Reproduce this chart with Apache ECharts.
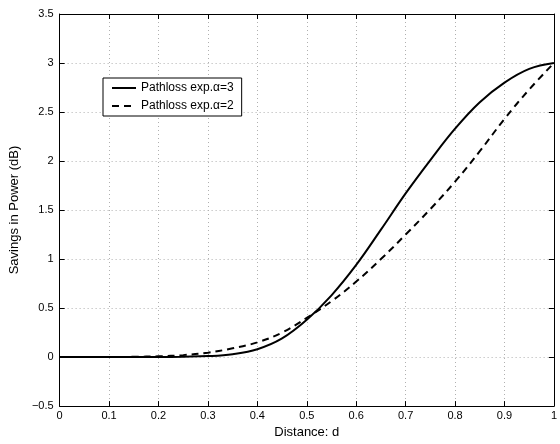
<!DOCTYPE html>
<html>
<head>
<meta charset="utf-8">
<script src="https://cdn.jsdelivr.net/npm/echarts@6/dist/echarts.min.js"></script>
<style>
  html, body { margin: 0; padding: 0; background: #fff; }
  #chart { width: 560px; height: 444px; }
</style>
</head>
<body>
<div id="chart"></div>
<script>
// distance samples
var distance = [0, 0.05, 0.1, 0.15, 0.2, 0.25, 0.3, 0.35, 0.4, 0.45, 0.5,
                0.55, 0.6, 0.65, 0.7, 0.75, 0.8, 0.85, 0.9, 0.95, 1.0];
// savings (dB), pathloss exponent 3
var savingsAlpha3 = [0, 0, 0, 0, 0.001, 0.004, 0.01, 0.03, 0.08, 0.19, 0.38,
                     0.63, 0.94, 1.3, 1.67, 2.01, 2.33, 2.6, 2.8, 2.94, 3.0];
// savings (dB), pathloss exponent 2
var savingsAlpha2 = [0, 0, 0.001, 0.003, 0.008, 0.02, 0.045, 0.09, 0.15, 0.25, 0.4,
                     0.57, 0.77, 1.0, 1.25, 1.51, 1.79, 2.1, 2.43, 2.73, 3.0];
var seriesNames = ['Pathloss exp.\u03b1=3', 'Pathloss exp.\u03b1=2'];

function pairs(ys) {
    return distance.map(function (x, i) { return [x, ys[i]]; });
}

var font = 'Liberation Sans, Arial, sans-serif';
var gridLine = { show: true, lineStyle: { color: '#b0b0b0', type: [1, 3], width: 1 } };
var blackLine = { show: true, onZero: false, lineStyle: { color: '#000', width: 1 } };
var innerTick = { show: true, inside: true, length: 5, lineStyle: { color: '#000' } };

var myChart = echarts.init(document.getElementById('chart'));
var option = {
    animation: false,
    grid: { left: 58, right: 2, top: 14, bottom: 36 },
    legend: {
        left: 103,
        top: 78,
        orient: 'vertical',
        backgroundColor: '#fff',
        borderColor: '#000',
        borderWidth: 1,
        padding: [4, 8, 4, 8],
        itemWidth: 24,
        itemHeight: 12,
        itemGap: 6,
        itemStyle: { opacity: 0 },
        textStyle: { fontFamily: font, fontSize: 12, color: '#000' },
        data: seriesNames
    },
    xAxis: [{
        type: 'value',
        min: 0,
        max: 1,
        interval: 0.1,
        name: 'Distance: d',
        nameLocation: 'middle',
        nameGap: 17,
        nameTextStyle: { fontFamily: font, fontSize: 13, color: '#000' },
        axisLine: blackLine,
        axisTick: innerTick,
        axisLabel: { fontFamily: font, fontSize: 11, color: '#000', margin: 4 },
        splitLine: gridLine
    }, {
        type: 'value',
        position: 'top',
        min: 0,
        max: 1,
        interval: 0.1,
        axisLine: blackLine,
        axisTick: innerTick,
        axisLabel: { show: false },
        splitLine: { show: false }
    }],
    yAxis: [{
        type: 'value',
        min: -0.5,
        max: 3.5,
        interval: 0.5,
        name: 'Savings in Power (dB)',
        nameLocation: 'middle',
        nameGap: 30,
        nameTextStyle: { fontFamily: font, fontSize: 13, color: '#000' },
        axisLine: blackLine,
        axisTick: innerTick,
        axisLabel: {
            fontFamily: font, fontSize: 11, color: '#000', margin: 6,
            formatter: function (v) { return String(v).replace('-', '\u2212'); }
        },
        splitLine: gridLine
    }, {
        type: 'value',
        position: 'right',
        min: -0.5,
        max: 3.5,
        interval: 0.5,
        axisLine: blackLine,
        axisTick: innerTick,
        axisLabel: { show: false },
        splitLine: { show: false }
    }],
    series: [{
        name: seriesNames[0],
        type: 'line',
        data: pairs(savingsAlpha3),
        smooth: 0.4,
        symbol: 'none',
        color: '#000',
        lineStyle: { color: '#000', width: 2 }
    }, {
        name: seriesNames[1],
        type: 'line',
        data: pairs(savingsAlpha2),
        smooth: 0.4,
        symbol: 'none',
        color: '#000',
        lineStyle: { color: '#000', width: 2, type: [7, 5] }
    }]
};
myChart.setOption(option);
</script>
</body>
</html>
